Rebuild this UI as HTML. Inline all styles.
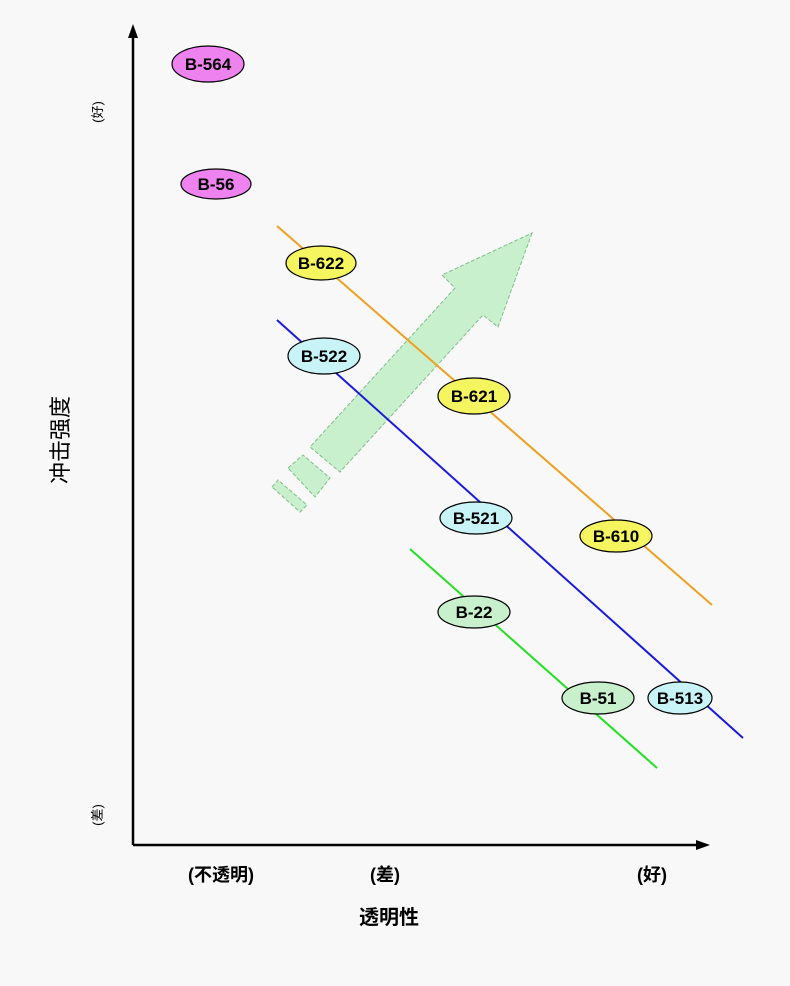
<!DOCTYPE html>
<html><head><meta charset="utf-8"><style>
html,body{margin:0;padding:0;background:#f8f8f8;}
svg{display:block;}
</style></head><body>
<svg width="790" height="986" viewBox="0 0 790 986" xmlns="http://www.w3.org/2000/svg" font-family="'Liberation Sans','Noto Sans CJK SC',sans-serif">
<rect width="790" height="986" fill="#f8f8f8"/>
<line x1="133" y1="32" x2="133" y2="845" stroke="#000" stroke-width="2.5"/>
<polygon points="133,24 128,38 138,38" fill="#000"/>
<line x1="133" y1="845" x2="702" y2="845" stroke="#000" stroke-width="2.5"/>
<polygon points="710,845 696,840 696,850" fill="#000"/>
<g fill="#c8f0cc" stroke="#7fbf8a" stroke-width="1" stroke-dasharray="4,2">
<polygon points="532,233 498,327 483,315 340,472 310,447 455,288 442,275"/>
<polygon points="288,468 303,455 330,478 315,497"/>
<polygon points="272,487 278,480 307,505 300,512"/>
</g>
<line x1="277" y1="226" x2="712" y2="605" stroke="#f0a020" stroke-width="2"/>
<line x1="277" y1="320" x2="743" y2="738" stroke="#1a1adc" stroke-width="2"/>
<line x1="410" y1="549" x2="657" y2="768" stroke="#22e022" stroke-width="2"/>
<g stroke="#000" stroke-width="1.2">
<ellipse cx="208" cy="64" rx="36" ry="18" fill="#ee82ee"/>
<ellipse cx="216" cy="184" rx="35" ry="15" fill="#ee82ee"/>
<ellipse cx="321" cy="263" rx="35" ry="17" fill="#f5f560"/>
<ellipse cx="324" cy="356" rx="36" ry="18" fill="#c8f4f8"/>
<ellipse cx="474" cy="396" rx="36" ry="18" fill="#f5f560"/>
<ellipse cx="476" cy="518" rx="36" ry="16" fill="#c8f4f8"/>
<ellipse cx="616" cy="536" rx="36" ry="16" fill="#f5f560"/>
<ellipse cx="474" cy="612" rx="36" ry="16" fill="#c8f0cc"/>
<ellipse cx="598" cy="698" rx="36" ry="16" fill="#c8f0cc"/>
<ellipse cx="680" cy="698" rx="32" ry="16" fill="#c8f4f8"/>
</g>
<g fill="#000" stroke="none" font-size="17" font-weight="bold" text-anchor="middle">
<text x="208" y="70">B-564</text>
<text x="216" y="190">B-56</text>
<text x="321" y="269">B-622</text>
<text x="324" y="362">B-522</text>
<text x="474" y="402">B-621</text>
<text x="476" y="524">B-521</text>
<text x="616" y="542">B-610</text>
<text x="474" y="618">B-22</text>
<text x="598" y="704">B-51</text>
<text x="680" y="704">B-513</text>
</g>
<g fill="#000">
<text transform="translate(68,440) rotate(-90)" font-size="22" text-anchor="middle">冲击强度</text>
<text transform="translate(102,112) rotate(-90)" font-size="13" text-anchor="middle">(好)</text>
<text transform="translate(102,815) rotate(-90)" font-size="13" text-anchor="middle">(差)</text>
<text x="221" y="881" font-size="18" font-weight="bold" text-anchor="middle">(不透明)</text>
<text x="385" y="881" font-size="18" font-weight="bold" text-anchor="middle">(差)</text>
<text x="652" y="881" font-size="18" font-weight="bold" text-anchor="middle">(好)</text>
<text x="389" y="924" font-size="20" font-weight="bold" text-anchor="middle">透明性</text>
</g>
</svg>
</body></html>
